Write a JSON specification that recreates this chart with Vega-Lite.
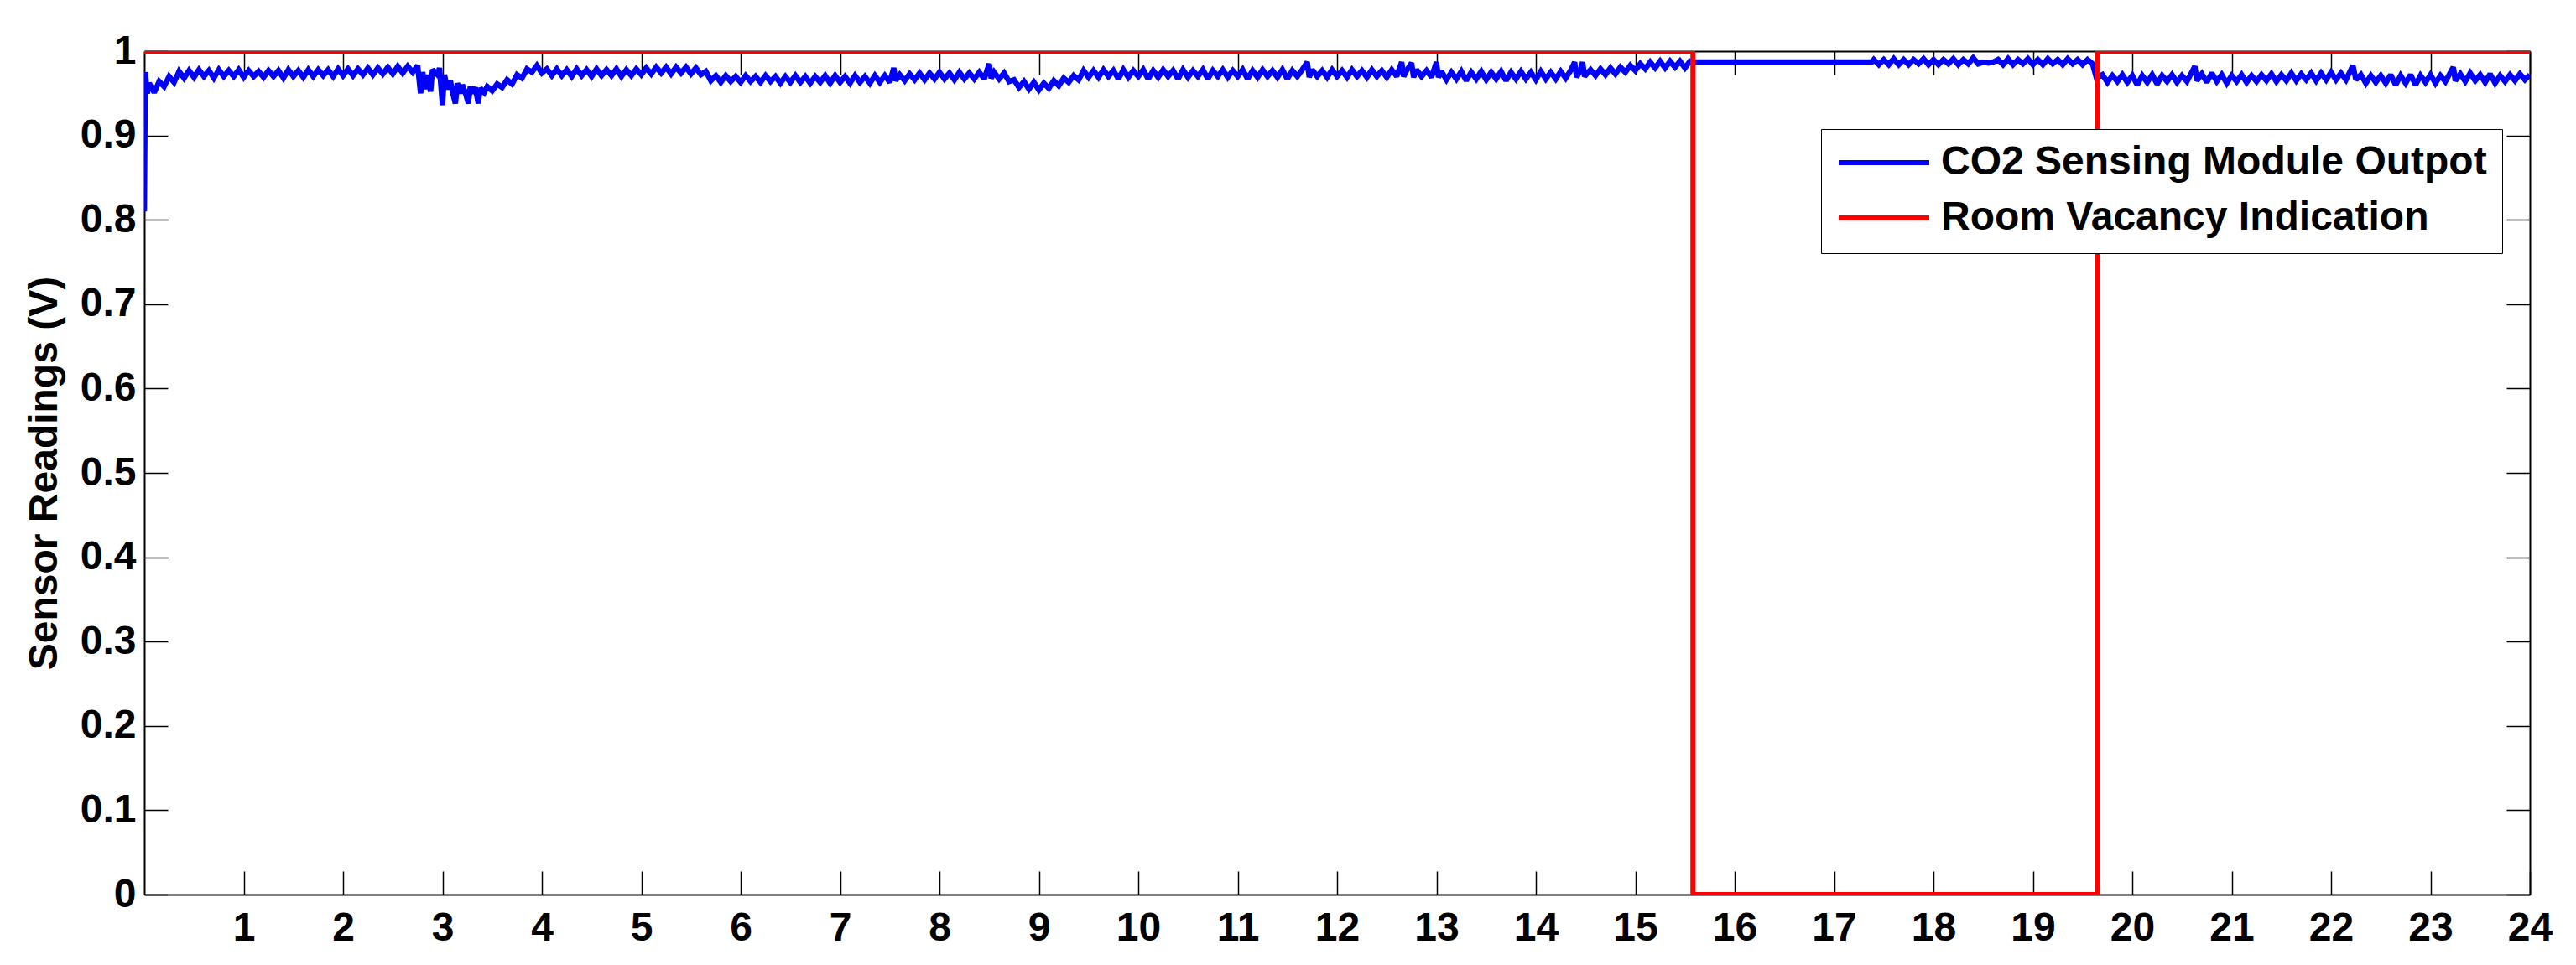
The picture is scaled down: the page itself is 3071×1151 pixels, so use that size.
{
  "$schema": "https://vega.github.io/schema/vega-lite/v6.json",
  "autosize": {"type": "none"},
  "width": 2844,
  "height": 1006,
  "padding": {"left": 172, "top": 61, "right": 55, "bottom": 84},
  "background": "white",
  "datasets": {
    "co2": [
      {"t":0.00,"v":0.810},{"t":0.01,"v":0.975},{"t":0.03,"v":0.950},{"t":0.05,"v":0.962},{"t":0.10,"v":0.951},{"t":0.15,"v":0.964},{"t":0.20,"v":0.958},{"t":0.25,"v":0.970},{"t":0.30,"v":0.963},{"t":0.35,"v":0.976},{"t":0.40,"v":0.968},
      {"t":0.45,"v":0.977},{"t":0.50,"v":0.969},{"t":0.55,"v":0.978},{"t":0.60,"v":0.970},{"t":0.65,"v":0.977},{"t":0.70,"v":0.968},{"t":0.75,"v":0.978},{"t":0.80,"v":0.970},{"t":0.85,"v":0.977},{"t":0.90,"v":0.970},{"t":0.95,"v":0.978},{"t":1.00,"v":0.969},
      {"t":1.05,"v":0.977},{"t":1.10,"v":0.970},{"t":1.15,"v":0.976},{"t":1.20,"v":0.969},{"t":1.25,"v":0.977},{"t":1.30,"v":0.970},{"t":1.35,"v":0.977},{"t":1.40,"v":0.968},{"t":1.45,"v":0.978},{"t":1.50,"v":0.970},{"t":1.55,"v":0.977},{"t":1.60,"v":0.969},
      {"t":1.65,"v":0.978},{"t":1.70,"v":0.970},{"t":1.75,"v":0.978},{"t":1.80,"v":0.971},{"t":1.85,"v":0.978},{"t":1.90,"v":0.970},{"t":1.95,"v":0.979},{"t":2.00,"v":0.971},{"t":2.05,"v":0.979},{"t":2.10,"v":0.971},{"t":2.15,"v":0.979},{"t":2.20,"v":0.972},
      {"t":2.25,"v":0.980},{"t":2.30,"v":0.972},{"t":2.35,"v":0.980},{"t":2.40,"v":0.973},{"t":2.45,"v":0.981},{"t":2.50,"v":0.973},{"t":2.55,"v":0.982},{"t":2.60,"v":0.974},{"t":2.65,"v":0.982},{"t":2.70,"v":0.975},{"t":2.75,"v":0.983},
      {"t":2.78,"v":0.950},{"t":2.80,"v":0.975},{"t":2.83,"v":0.955},{"t":2.85,"v":0.972},{"t":2.88,"v":0.952},{"t":2.90,"v":0.978},{"t":2.95,"v":0.972},{"t":2.97,"v":0.980},{"t":3.00,"v":0.936},{"t":3.02,"v":0.972},{"t":3.05,"v":0.955},{"t":3.08,"v":0.965},
      {"t":3.10,"v":0.952},{"t":3.13,"v":0.938},{"t":3.15,"v":0.962},{"t":3.18,"v":0.950},{"t":3.20,"v":0.960},{"t":3.23,"v":0.951},{"t":3.26,"v":0.938},{"t":3.28,"v":0.958},{"t":3.30,"v":0.950},{"t":3.33,"v":0.957},{"t":3.36,"v":0.938},{"t":3.38,"v":0.956},
      {"t":3.42,"v":0.951},{"t":3.45,"v":0.958},{"t":3.50,"v":0.953},{"t":3.55,"v":0.961},{"t":3.60,"v":0.957},{"t":3.65,"v":0.966},{"t":3.70,"v":0.961},{"t":3.75,"v":0.972},{"t":3.80,"v":0.968},{"t":3.85,"v":0.979},{"t":3.90,"v":0.975},{"t":3.95,"v":0.983},
      {"t":4.00,"v":0.974},{"t":4.05,"v":0.979},{"t":4.10,"v":0.971},{"t":4.15,"v":0.979},{"t":4.20,"v":0.971},{"t":4.25,"v":0.978},{"t":4.30,"v":0.970},{"t":4.35,"v":0.979},{"t":4.40,"v":0.971},{"t":4.45,"v":0.978},{"t":4.50,"v":0.970},{"t":4.55,"v":0.979},
      {"t":4.60,"v":0.971},{"t":4.65,"v":0.978},{"t":4.70,"v":0.971},{"t":4.75,"v":0.979},{"t":4.80,"v":0.970},{"t":4.85,"v":0.978},{"t":4.90,"v":0.971},{"t":4.95,"v":0.979},{"t":5.00,"v":0.972},{"t":5.05,"v":0.980},{"t":5.10,"v":0.973},{"t":5.15,"v":0.981},
      {"t":5.20,"v":0.974},{"t":5.25,"v":0.981},{"t":5.30,"v":0.973},{"t":5.35,"v":0.981},{"t":5.40,"v":0.974},{"t":5.45,"v":0.981},{"t":5.50,"v":0.973},{"t":5.55,"v":0.980},{"t":5.60,"v":0.972},{"t":5.65,"v":0.976},{"t":5.70,"v":0.965},{"t":5.75,"v":0.971},
      {"t":5.80,"v":0.963},{"t":5.85,"v":0.971},{"t":5.90,"v":0.964},{"t":5.95,"v":0.970},{"t":6.00,"v":0.963},{"t":6.05,"v":0.971},{"t":6.10,"v":0.964},{"t":6.15,"v":0.970},{"t":6.20,"v":0.963},{"t":6.25,"v":0.971},{"t":6.30,"v":0.964},{"t":6.35,"v":0.970},
      {"t":6.40,"v":0.962},{"t":6.45,"v":0.970},{"t":6.50,"v":0.963},{"t":6.55,"v":0.971},{"t":6.60,"v":0.963},{"t":6.65,"v":0.970},{"t":6.70,"v":0.962},{"t":6.75,"v":0.970},{"t":6.80,"v":0.963},{"t":6.85,"v":0.971},{"t":6.90,"v":0.962},{"t":6.95,"v":0.971},
      {"t":7.00,"v":0.963},{"t":7.05,"v":0.970},{"t":7.10,"v":0.962},{"t":7.15,"v":0.971},{"t":7.20,"v":0.963},{"t":7.25,"v":0.970},{"t":7.30,"v":0.962},{"t":7.35,"v":0.971},{"t":7.40,"v":0.963},{"t":7.45,"v":0.971},{"t":7.50,"v":0.963},{"t":7.54,"v":0.980},
      {"t":7.56,"v":0.965},{"t":7.60,"v":0.972},{"t":7.65,"v":0.965},{"t":7.70,"v":0.973},{"t":7.75,"v":0.966},{"t":7.80,"v":0.974},{"t":7.85,"v":0.966},{"t":7.90,"v":0.974},{"t":7.95,"v":0.967},{"t":8.00,"v":0.975},{"t":8.05,"v":0.967},{"t":8.10,"v":0.974},
      {"t":8.15,"v":0.966},{"t":8.20,"v":0.975},{"t":8.25,"v":0.967},{"t":8.30,"v":0.974},{"t":8.35,"v":0.967},{"t":8.40,"v":0.975},{"t":8.45,"v":0.967},{"t":8.50,"v":0.985},{"t":8.52,"v":0.968},{"t":8.55,"v":0.975},{"t":8.60,"v":0.967},{"t":8.65,"v":0.974},
      {"t":8.70,"v":0.964},{"t":8.75,"v":0.966},{"t":8.80,"v":0.957},{"t":8.85,"v":0.964},{"t":8.90,"v":0.955},{"t":8.95,"v":0.963},{"t":9.00,"v":0.954},{"t":9.05,"v":0.962},{"t":9.10,"v":0.956},{"t":9.15,"v":0.965},{"t":9.20,"v":0.959},{"t":9.25,"v":0.968},
      {"t":9.30,"v":0.963},{"t":9.35,"v":0.971},{"t":9.40,"v":0.966},{"t":9.45,"v":0.977},{"t":9.50,"v":0.969},{"t":9.55,"v":0.977},{"t":9.60,"v":0.969},{"t":9.65,"v":0.978},{"t":9.70,"v":0.970},{"t":9.75,"v":0.977},{"t":9.80,"v":0.967},{"t":9.85,"v":0.978},
      {"t":9.90,"v":0.969},{"t":9.95,"v":0.977},{"t":10.00,"v":0.970},{"t":10.05,"v":0.978},{"t":10.10,"v":0.967},{"t":10.15,"v":0.977},{"t":10.20,"v":0.969},{"t":10.25,"v":0.978},{"t":10.30,"v":0.970},{"t":10.35,"v":0.977},{"t":10.40,"v":0.967},{"t":10.45,"v":0.978},
      {"t":10.50,"v":0.969},{"t":10.55,"v":0.977},{"t":10.60,"v":0.970},{"t":10.65,"v":0.978},{"t":10.70,"v":0.967},{"t":10.75,"v":0.977},{"t":10.80,"v":0.970},{"t":10.85,"v":0.978},{"t":10.90,"v":0.969},{"t":10.95,"v":0.977},{"t":11.00,"v":0.970},{"t":11.05,"v":0.978},
      {"t":11.10,"v":0.967},{"t":11.15,"v":0.977},{"t":11.20,"v":0.969},{"t":11.25,"v":0.978},{"t":11.30,"v":0.970},{"t":11.35,"v":0.977},{"t":11.40,"v":0.969},{"t":11.45,"v":0.978},{"t":11.50,"v":0.967},{"t":11.55,"v":0.977},{"t":11.60,"v":0.970},{"t":11.65,"v":0.978},
      {"t":11.70,"v":0.987},{"t":11.72,"v":0.969},{"t":11.75,"v":0.978},{"t":11.80,"v":0.970},{"t":11.85,"v":0.977},{"t":11.90,"v":0.969},{"t":11.95,"v":0.978},{"t":12.00,"v":0.970},{"t":12.05,"v":0.977},{"t":12.10,"v":0.969},{"t":12.15,"v":0.978},{"t":12.20,"v":0.970},
      {"t":12.25,"v":0.977},{"t":12.30,"v":0.969},{"t":12.35,"v":0.978},{"t":12.40,"v":0.970},{"t":12.45,"v":0.977},{"t":12.50,"v":0.969},{"t":12.55,"v":0.978},{"t":12.60,"v":0.970},{"t":12.65,"v":0.987},{"t":12.67,"v":0.970},{"t":12.70,"v":0.977},{"t":12.75,"v":0.986},
      {"t":12.77,"v":0.969},{"t":12.80,"v":0.978},{"t":12.85,"v":0.970},{"t":12.90,"v":0.977},{"t":12.95,"v":0.969},{"t":13.00,"v":0.987},{"t":13.02,"v":0.969},{"t":13.05,"v":0.976},{"t":13.10,"v":0.966},{"t":13.15,"v":0.975},{"t":13.20,"v":0.967},{"t":13.25,"v":0.976},
      {"t":13.30,"v":0.965},{"t":13.35,"v":0.975},{"t":13.40,"v":0.967},{"t":13.45,"v":0.976},{"t":13.50,"v":0.966},{"t":13.55,"v":0.975},{"t":13.60,"v":0.967},{"t":13.65,"v":0.976},{"t":13.70,"v":0.965},{"t":13.75,"v":0.975},{"t":13.80,"v":0.967},{"t":13.85,"v":0.976},
      {"t":13.90,"v":0.967},{"t":13.95,"v":0.975},{"t":14.00,"v":0.966},{"t":14.05,"v":0.976},{"t":14.10,"v":0.967},{"t":14.15,"v":0.975},{"t":14.20,"v":0.967},{"t":14.25,"v":0.976},{"t":14.30,"v":0.968},{"t":14.35,"v":0.977},{"t":14.39,"v":0.987},{"t":14.41,"v":0.969},
      {"t":14.45,"v":0.978},{"t":14.47,"v":0.987},{"t":14.49,"v":0.970},{"t":14.55,"v":0.978},{"t":14.60,"v":0.971},{"t":14.65,"v":0.979},{"t":14.70,"v":0.972},{"t":14.75,"v":0.980},{"t":14.80,"v":0.973},{"t":14.85,"v":0.981},{"t":14.90,"v":0.975},{"t":14.95,"v":0.983},
      {"t":15.00,"v":0.977},{"t":15.05,"v":0.985},{"t":15.10,"v":0.979},{"t":15.15,"v":0.987},{"t":15.20,"v":0.980},{"t":15.25,"v":0.988},{"t":15.30,"v":0.980},{"t":15.35,"v":0.988},{"t":15.40,"v":0.981},{"t":15.45,"v":0.988},{"t":15.50,"v":0.980},{"t":15.55,"v":0.988},
      {"t":15.58,"v":0.987},{"t":17.38,"v":0.987},{"t":17.40,"v":0.990},{"t":17.45,"v":0.984},{"t":17.50,"v":0.990},{"t":17.55,"v":0.984},{"t":17.60,"v":0.991},{"t":17.65,"v":0.984},{"t":17.70,"v":0.990},{"t":17.75,"v":0.984},{"t":17.80,"v":0.990},{"t":17.85,"v":0.985},
      {"t":17.90,"v":0.991},{"t":17.95,"v":0.984},{"t":18.00,"v":0.990},{"t":18.05,"v":0.984},{"t":18.10,"v":0.990},{"t":18.15,"v":0.985},{"t":18.20,"v":0.991},{"t":18.25,"v":0.984},{"t":18.30,"v":0.990},{"t":18.35,"v":0.985},{"t":18.40,"v":0.992},{"t":18.45,"v":0.985},
      {"t":18.50,"v":0.987},{"t":18.55,"v":0.986},{"t":18.60,"v":0.987},{"t":18.65,"v":0.990},{"t":18.70,"v":0.984},{"t":18.75,"v":0.991},{"t":18.80,"v":0.984},{"t":18.85,"v":0.990},{"t":18.90,"v":0.985},{"t":18.95,"v":0.991},{"t":19.00,"v":0.984},{"t":19.05,"v":0.990},
      {"t":19.10,"v":0.984},{"t":19.15,"v":0.991},{"t":19.20,"v":0.985},{"t":19.25,"v":0.990},{"t":19.30,"v":0.984},{"t":19.35,"v":0.991},{"t":19.40,"v":0.985},{"t":19.45,"v":0.990},{"t":19.50,"v":0.984},{"t":19.55,"v":0.990},{"t":19.60,"v":0.985},{"t":19.64,"v":0.968},
      {"t":19.70,"v":0.972},{"t":19.75,"v":0.963},{"t":19.80,"v":0.971},{"t":19.85,"v":0.964},{"t":19.90,"v":0.972},{"t":19.95,"v":0.963},{"t":20.00,"v":0.971},{"t":20.05,"v":0.960},{"t":20.10,"v":0.971},{"t":20.15,"v":0.963},{"t":20.20,"v":0.972},{"t":20.25,"v":0.961},
      {"t":20.30,"v":0.971},{"t":20.35,"v":0.964},{"t":20.40,"v":0.972},{"t":20.45,"v":0.963},{"t":20.50,"v":0.971},{"t":20.55,"v":0.964},{"t":20.63,"v":0.982},{"t":20.65,"v":0.965},{"t":20.70,"v":0.973},{"t":20.75,"v":0.963},{"t":20.80,"v":0.974},{"t":20.85,"v":0.964},
      {"t":20.90,"v":0.972},{"t":20.95,"v":0.962},{"t":21.00,"v":0.971},{"t":21.05,"v":0.964},{"t":21.10,"v":0.972},{"t":21.15,"v":0.963},{"t":21.20,"v":0.971},{"t":21.25,"v":0.964},{"t":21.30,"v":0.972},{"t":21.35,"v":0.965},{"t":21.40,"v":0.973},{"t":21.45,"v":0.964},
      {"t":21.50,"v":0.972},{"t":21.55,"v":0.965},{"t":21.60,"v":0.974},{"t":21.65,"v":0.965},{"t":21.70,"v":0.973},{"t":21.75,"v":0.966},{"t":21.80,"v":0.974},{"t":21.85,"v":0.965},{"t":21.90,"v":0.974},{"t":21.95,"v":0.966},{"t":22.00,"v":0.975},{"t":22.05,"v":0.966},
      {"t":22.10,"v":0.974},{"t":22.15,"v":0.966},{"t":22.22,"v":0.983},{"t":22.25,"v":0.966},{"t":22.30,"v":0.972},{"t":22.35,"v":0.962},{"t":22.40,"v":0.971},{"t":22.45,"v":0.963},{"t":22.50,"v":0.971},{"t":22.55,"v":0.962},{"t":22.60,"v":0.972},{"t":22.65,"v":0.960},
      {"t":22.70,"v":0.971},{"t":22.75,"v":0.962},{"t":22.80,"v":0.972},{"t":22.85,"v":0.960},{"t":22.90,"v":0.971},{"t":22.95,"v":0.963},{"t":23.00,"v":0.972},{"t":23.05,"v":0.962},{"t":23.10,"v":0.971},{"t":23.15,"v":0.964},{"t":23.23,"v":0.981},{"t":23.25,"v":0.965},
      {"t":23.30,"v":0.973},{"t":23.35,"v":0.964},{"t":23.40,"v":0.974},{"t":23.45,"v":0.965},{"t":23.50,"v":0.972},{"t":23.55,"v":0.963},{"t":23.60,"v":0.973},{"t":23.65,"v":0.962},{"t":23.70,"v":0.971},{"t":23.75,"v":0.964},{"t":23.80,"v":0.972},{"t":23.85,"v":0.965},
      {"t":23.90,"v":0.973},{"t":23.95,"v":0.966},{"t":24.00,"v":0.972}
    ],
    "vac": [
      {"i":0,"t":0,"v":1},{"i":1,"t":15.58,"v":1},{"i":2,"t":15.58,"v":0},{"i":3,"t":19.65,"v":0},{"i":4,"t":19.65,"v":1},{"i":5,"t":24,"v":1}
    ]
  },
  "layer": [
    {
      "data": {"name": "co2"},
      "mark": {"type": "line", "strokeWidth": 6.5, "clip": true, "interpolate": "linear", "strokeJoin": "miter", "strokeMiterLimit": 2},
      "encoding": {
        "x": {"field": "t", "type": "quantitative", "scale": {"domain": [0, 24], "nice": false, "zero": false},
          "axis": {"orient": "bottom", "values": [1,2,3,4,5,6,7,8,9,10,11,12,13,14,15,16,17,18,19,20,21,22,23,24], "title": null, "labelPadding": 44}},
        "y": {"field": "v", "type": "quantitative", "scale": {"domain": [0, 1], "nice": false, "zero": false},
          "axis": {"orient": "left", "values": [0,0.1,0.2,0.3,0.4,0.5,0.6,0.7,0.8,0.9,1], "format": "~g", "labelPadding": 38,
            "title": "Sensor Readings (V)", "titleFontSize": 48, "titleFont": "Liberation Sans", "titleFontWeight": "bold", "titleColor": "black",
            "titleAngle": -90, "titleX": -105, "titleY": 503, "titleAlign": "center", "titleBaseline": "alphabetic"}},
        "color": {"datum": "CO2 Sensing Module Outpot", "type": "nominal",
          "scale": {"domain": ["CO2 Sensing Module Outpot", "Room Vacancy Indication"], "range": ["#0000FF", "#FF0000"]},
          "legend": {"orient": "none", "legendX": 1999, "legendY": 93, "title": null, "symbolType": "stroke", "symbolSize": 11664, "symbolStrokeWidth": 6,
            "labelFontSize": 48, "labelFont": "Liberation Sans", "labelFontWeight": "bold", "labelColor": "black", "labelLimit": 0, "labelOffset": 11,
            "clipHeight": 44, "rowPadding": 18, "padding": 18, "strokeColor": "black", "fillColor": "white"}}
      }
    },
    {
      "data": {"name": "vac"},
      "mark": {"type": "line", "strokeWidth": 6, "clip": true},
      "encoding": {
        "x": {"field": "t", "type": "quantitative", "scale": {"domain": [0, 24], "nice": false, "zero": false},
          "axis": {"orient": "top", "values": [1,2,3,4,5,6,7,8,9,10,11,12,13,14,15,16,17,18,19,20,21,22,23,24], "labels": false, "title": null}},
        "y": {"field": "v", "type": "quantitative", "scale": {"domain": [0, 1], "nice": false, "zero": false},
          "axis": {"orient": "right", "values": [0,0.1,0.2,0.3,0.4,0.5,0.6,0.7,0.8,0.9,1], "labels": false, "title": null}},
        "order": {"field": "i", "type": "quantitative"},
        "color": {"datum": "Room Vacancy Indication", "type": "nominal"}
      }
    }
  ],
  "resolve": {"axis": {"x": "independent", "y": "independent"}},
  "config": {
    "view": {"stroke": null},
    "axis": {
      "grid": false, "zindex": 1,
      "domainColor": "black", "domainWidth": 2,
      "tickColor": "black", "tickWidth": 1.5, "tickSize": -28,
      "labelFont": "Liberation Sans", "labelFontSize": 48, "labelFontWeight": "bold", "labelColor": "black",
      "labelFlush": false, "labelOverlap": false
    }
  }
}
